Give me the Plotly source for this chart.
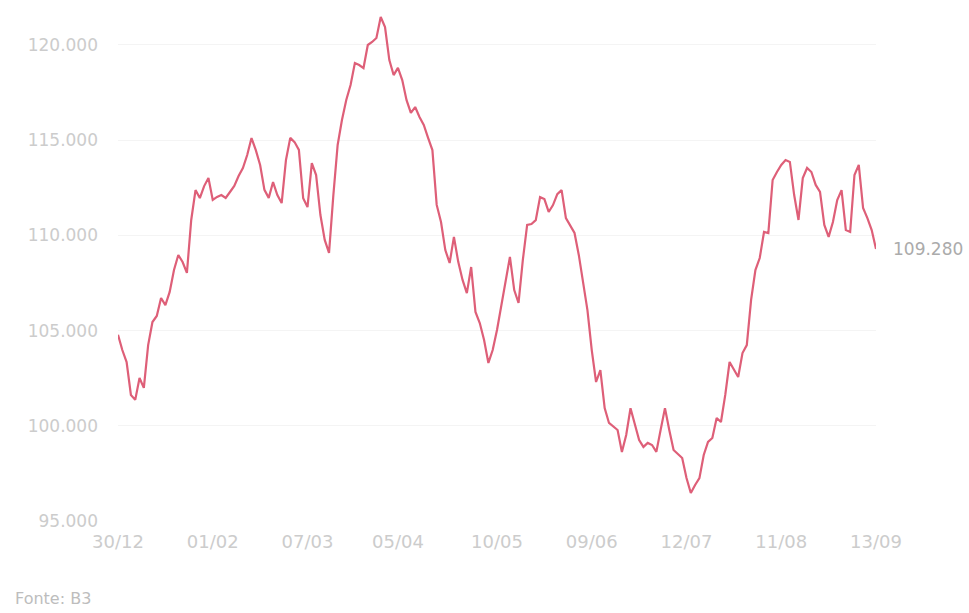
import pandas as pd
import plotly.graph_objects as go

# ---- data -------------------------------------------------------------
first_day = "2021-12-30"
period_start = "2022-01-03"
period_end = "2022-09-13"
holidays = ["2022-02-28", "2022-03-01", "2022-04-15", "2022-04-21",
            "2022-06-16", "2022-09-07"]

values = [
    104780, 103980, 103350, 101620, 101360, 102510, 101990, 104240, 105450, 105770,
    106710, 106340, 107030, 108180, 108970, 108600, 108030, 110810, 112380, 111960,
    112590, 113010, 111860, 112020, 112120, 111970, 112280, 112600, 113120, 113540,
    114220, 115110, 114480, 113700, 112390, 111970, 112800, 112120, 111700, 113960,
    115120, 114900, 114490, 111950, 111490, 113800, 113170, 111070, 109760, 109080,
    112100, 114750, 116060, 117110, 117900, 119050, 118950, 118790, 120000, 120160,
    120370, 121470, 120940, 119210, 118420, 118800, 118160, 117100, 116430, 116740,
    116220, 115800, 115120, 114480, 111600, 110700, 109230, 108550, 109920, 108610,
    107660, 106970, 108340, 105980, 105400, 104510, 103300, 103980, 105030, 106340,
    107650, 108870, 107130, 106450, 108710, 110550, 110600, 110800, 112010, 111910,
    111230, 111590, 112170, 112380, 110910, 110540, 110130, 108960, 107400, 106080,
    103970, 102300, 102930, 100930, 100150, 99940, 99780, 98620, 99520, 100920,
    100040, 99250, 98890, 99100, 98990, 98630, 99790, 100930, 99780, 98730,
    98520, 98310, 97260, 96470, 96890, 97250, 98470, 99150, 99360, 100410,
    100200, 101620, 103350, 102930, 102560, 103820, 104240, 106610, 108180, 108810,
    110180, 110120, 112910, 113330, 113700, 113960, 113860, 112120, 110810, 113010,
    113540, 113330, 112650, 112280, 110550, 109920, 110700, 111860, 112380, 110280,
    110180, 113170, 113700, 111440, 110910, 110280, 109280,
]

tick_labels = ["30/12", "01/02", "07/03", "05/04", "10/05", "09/06", "12/07", "11/08", "13/09"]
y_ticks = [95000, 100000, 105000, 110000, 115000, 120000]
source_text = "Fonte: B3"

# ---- trading-day categories --------------------------------------------
days = [pd.Timestamp(first_day)] + list(
    pd.bdate_range(period_start, period_end).difference(pd.to_datetime(holidays))
)
dates = [d.strftime("%d/%m") for d in days]
n = min(len(dates), len(values))
dates = dates[:n]
values = values[:n]

def fmt(v):
    return f"{v:,}".replace(",", ".")

fig = go.Figure()
fig.add_trace(go.Scatter(
    x=dates, y=values, mode="lines",
    line=dict(color="#de5f78", width=2.2),
    hoverinfo="skip", showlegend=False,
))

fig.add_annotation(
    x=dates[-1], y=values[-1], xref="x", yref="y",
    text=fmt(values[-1]), showarrow=False,
    xanchor="left", yanchor="middle", xshift=15,
    font=dict(family="DejaVu Sans", size=17, color="#ababab"),
)

fig.add_annotation(
    x=-0.138, y=-0.152, xref="paper", yref="paper",
    text=source_text, showarrow=False, xanchor="left", yanchor="middle",
    font=dict(family="DejaVu Sans", size=16, color="#bdbdbd"),
)

fig.update_layout(
    width=969, height=613,
    margin=dict(l=118, r=93, t=13, b=92),
    paper_bgcolor="white", plot_bgcolor="white",
    separators=",.",
    font=dict(family="DejaVu Sans", color="#cccccc"),
    xaxis=dict(
        type="category", range=[0, n - 1],
        tickmode="array", tickvals=tick_labels, ticktext=tick_labels,
        showgrid=False, zeroline=False, showline=False, ticks="",
        tickfont=dict(size=18, color="#cccccc"),
        ticklabelstandoff=8, automargin=False,
    ),
    yaxis=dict(
        range=[95000, 121680],
        tickmode="array", tickvals=y_ticks,
        ticktext=[fmt(v) for v in y_ticks],
        showgrid=True, gridcolor="#f4f4f4", gridwidth=1,
        zeroline=False, showline=False, ticks="",
        tickfont=dict(size=17, color="#cccccc"),
        ticklabelstandoff=19, automargin=False,
    ),
)

fig.write_html(
    "out.html",
    config={"displayModeBar": False, "staticPlot": True},
    post_script="document.body.style.margin='0';document.body.style.overflow='hidden';",
)
